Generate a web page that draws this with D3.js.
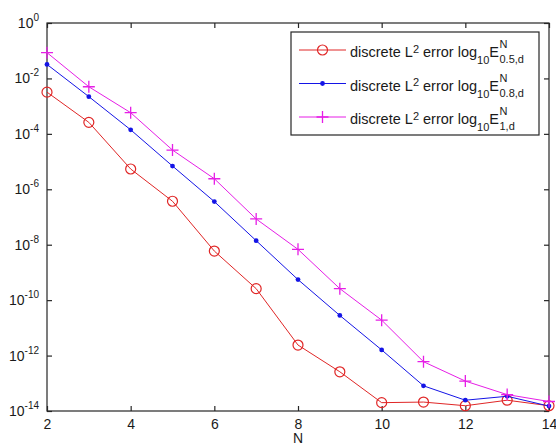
<!DOCTYPE html>
<html>
<head>
<meta charset="utf-8">
<script src="https://cdn.jsdelivr.net/npm/d3@7/dist/d3.min.js"></script>
<style>
  html, body { margin: 0; padding: 0; background: #fff; }
  svg { display: block; font-family: Arial, "Liberation Sans", Helvetica, sans-serif; }
</style>
</head>
<body>
<svg id="chart" width="556" height="444"></svg>
<script>
// Polynomial degree N
const N = [2, 3, 4, 5, 6, 7, 8, 9, 10, 11, 12, 13, 14];

// Discrete L2 errors for the three parameter values
const err05 = [3.2e-3, 2.6e-4, 5.4e-6, 3.7e-7, 5.9e-9, 2.6e-10, 2.4e-12, 2.6e-13, 2.0e-14, 2.1e-14, 1.55e-14, 2.45e-14, 1.55e-14];
const err08 = [3.2e-2, 2.2e-3, 1.4e-4, 6.9e-6, 3.6e-7, 1.4e-8, 5.5e-10, 2.8e-11, 1.6e-12, 8.1e-14, 2.45e-14, 3.4e-14, 1.5e-14];
const err10 = [8.5e-2, 5.0e-3, 5.8e-4, 2.6e-5, 2.4e-6, 8.5e-8, 6.8e-9, 2.6e-10, 1.9e-11, 6.0e-13, 1.2e-13, 3.9e-14, 2.2e-14];

const xTicks = [2, 4, 6, 8, 10, 12, 14];
const yExponents = [0, -2, -4, -6, -8, -10, -12, -14];

const legendSubs = ["0.5,d", "0.8,d", "1,d"];

const series = [
  { values: err05, color: "#e02626", marker: "circle", sub: legendSubs[0] },
  { values: err08, color: "#1414e6", marker: "dot", sub: legendSubs[1] },
  { values: err10, color: "#e61ee6", marker: "plus", sub: legendSubs[2] }
];

const svg = d3.select("#chart");
const plotL = 47, plotR = 549, plotT = 23, plotB = 411;
const axisColor = "#262626";

const x = d3.scaleLinear().domain([2, 14]).range([plotL, plotR]);
const y = d3.scaleLog().domain([1e-14, 1]).range([plotB, plotT]);

// Frame
svg.append("rect")
  .attr("x", plotL).attr("y", plotT)
  .attr("width", plotR - plotL).attr("height", plotB - plotT)
  .attr("fill", "none").attr("stroke", axisColor).attr("stroke-width", 1.2);

const tickLen = 5;
const tickVals = yExponents.map(e => Math.pow(10, e));

// Inward ticks on all four sides
const axB = d3.axisBottom(x).tickValues(xTicks).tickSize(-tickLen).tickFormat(d => d).tickPadding(8);
const axT = d3.axisTop(x).tickValues(xTicks).tickSize(-tickLen).tickFormat("");
const axL = d3.axisLeft(y).tickValues(tickVals).tickSize(-tickLen).tickFormat("");
const axR = d3.axisRight(y).tickValues(tickVals).tickSize(-tickLen).tickFormat("");

function styleAxis(g) {
  g.select(".domain").remove();
  g.selectAll(".tick line").attr("stroke", axisColor).attr("stroke-width", 1.2);
  g.selectAll(".tick text").attr("fill", "#1a1a1a")
    .style("font-size", "14px")
    .style("font-family", "Arial, 'Liberation Sans', sans-serif");
}

svg.append("g").attr("transform", `translate(0,${plotB})`).call(axB).call(styleAxis);
svg.append("g").attr("transform", `translate(0,${plotT})`).call(axT).call(styleAxis);
svg.append("g").attr("transform", `translate(${plotL},0)`).call(axL).call(styleAxis);
svg.append("g").attr("transform", `translate(${plotR},0)`).call(axR).call(styleAxis);

// Power-of-ten labels on the y axis
const yLab = svg.append("g");
yExponents.forEach(e => {
  const t = yLab.append("text")
    .attr("x", 39).attr("y", y(Math.pow(10, e)) + 5)
    .attr("text-anchor", "end")
    .attr("fill", "#1a1a1a")
    .style("font-size", "14px");
  t.append("tspan").text("10");
  t.append("tspan").attr("dy", -7).style("font-size", "10px").text(e === 0 ? "0" : "-" + Math.abs(e));
});

// Axis title
svg.append("text")
  .attr("x", (plotL + plotR) / 2).attr("y", 443)
  .attr("text-anchor", "middle")
  .attr("fill", "#1a1a1a")
  .style("font-size", "14px")
  .text("N");

// Series lines and markers
const line = d3.line().x((d, i) => x(N[i])).y(d => y(d));

function drawMarker(g, type, color, cx, cy) {
  if (type === "circle") {
    g.append("circle").attr("cx", cx).attr("cy", cy).attr("r", 5)
      .attr("fill", "none").attr("stroke", color).attr("stroke-width", 1.2);
  } else if (type === "dot") {
    g.append("circle").attr("cx", cx).attr("cy", cy).attr("r", 2.4)
      .attr("fill", color).attr("stroke", "none");
  } else {
    const s = 6;
    g.append("path")
      .attr("d", `M${cx - s},${cy}H${cx + s}M${cx},${cy - s}V${cy + s}`)
      .attr("stroke", color).attr("stroke-width", 1.3).attr("fill", "none");
  }
}

series.forEach(s => {
  svg.append("path")
    .datum(s.values)
    .attr("d", line)
    .attr("fill", "none")
    .attr("stroke", s.color)
    .attr("stroke-width", 1);
  const mg = svg.append("g");
  s.values.forEach((v, i) => drawMarker(mg, s.marker, s.color, x(N[i]), y(v)));
});

// Legend
const lg = svg.append("g");
lg.append("rect")
  .attr("x", 291).attr("y", 32).attr("width", 248).attr("height", 103)
  .attr("fill", "#fff").attr("stroke", axisColor).attr("stroke-width", 1.2);

series.forEach((s, k) => {
  const cy = 50 + k * 33.5;
  lg.append("line").attr("x1", 299).attr("x2", 346).attr("y1", cy).attr("y2", cy)
    .attr("stroke", s.color).attr("stroke-width", 1);
  drawMarker(lg, s.marker, s.color, 322.5, cy);

  const base = cy + 7;
  const t = lg.append("text").attr("x", 350).attr("y", base)
    .attr("fill", "#1a1a1a").style("font-size", "14.5px");
  t.append("tspan").text("discrete L");
  t.append("tspan").attr("dy", -4.5).style("font-size", "11px").text("2");
  t.append("tspan").attr("dy", 4.5).text(" error log");
  t.append("tspan").attr("dy", 7).style("font-size", "11px").text("10");
  t.append("tspan").attr("dy", -7).text("E");
  const w = t.node().getComputedTextLength();
  lg.append("text").attr("x", 350 + w + 0.5).attr("y", base - 9)
    .attr("fill", "#1a1a1a").style("font-size", "11px").text("N");
  lg.append("text").attr("x", 350 + w + 0.5).attr("y", base + 6)
    .attr("fill", "#1a1a1a").style("font-size", "11px").text(s.sub);
});
</script>
</body>
</html>
